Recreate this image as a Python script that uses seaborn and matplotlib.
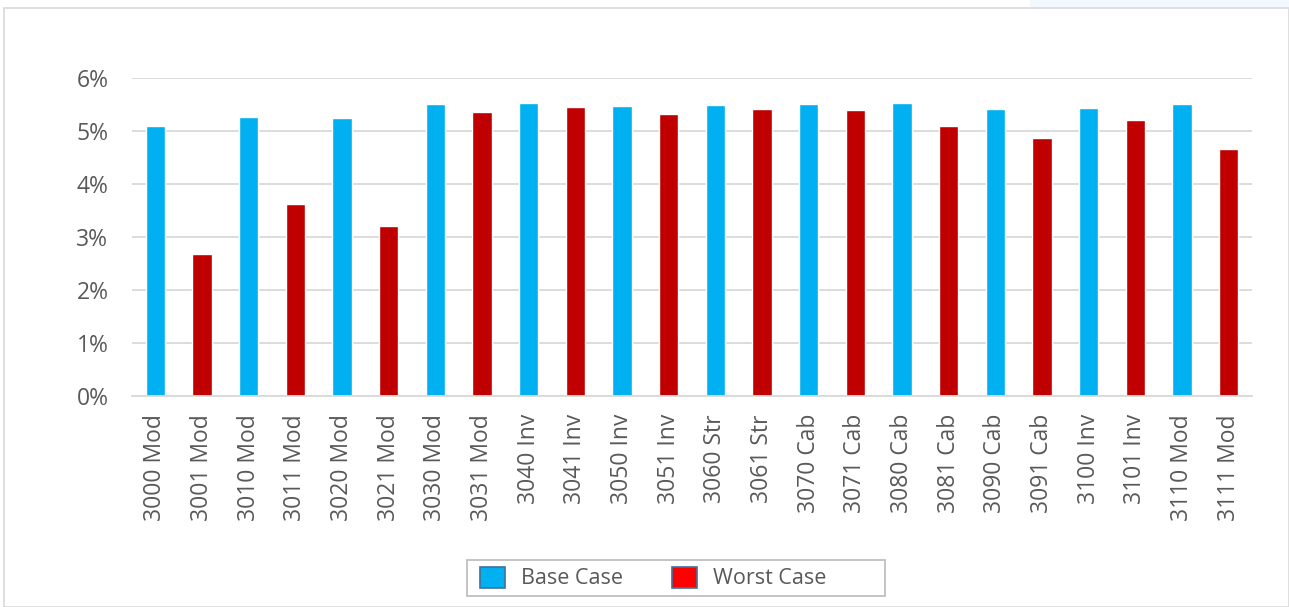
import matplotlib
matplotlib.use("Agg")
import matplotlib.pyplot as plt
from matplotlib.patches import Patch, Rectangle
from matplotlib.ticker import PercentFormatter, MultipleLocator
import seaborn as sns
import pandas as pd

labels = ["3000 Mod", "3001 Mod", "3010 Mod", "3011 Mod", "3020 Mod", "3021 Mod",
          "3030 Mod", "3031 Mod", "3040 Inv", "3041 Inv", "3050 Inv", "3051 Inv",
          "3060 Str", "3061 Str", "3070 Cab", "3071 Cab", "3080 Cab", "3081 Cab",
          "3090 Cab", "3091 Cab", "3100 Inv", "3101 Inv", "3110 Mod", "3111 Mod"]
values = [0.0509, 0.0268, 0.0526, 0.0362, 0.0525, 0.0321,
          0.0551, 0.0536, 0.0553, 0.0545, 0.0547, 0.0532,
          0.0549, 0.0542, 0.0551, 0.0540, 0.0553, 0.0509,
          0.0542, 0.0487, 0.0543, 0.0521, 0.0551, 0.0466]
cases = ["Base Case", "Worst Case"] * 12

BLUE = "#00B0F0"
DARKRED = "#C00000"
GRAY = "#595959"

sns.set_style("white")
plt.rcParams["font.family"] = ["Open Sans", "DejaVu Sans"]

df = pd.DataFrame({"label": labels, "value": values, "case": cases})

fig = plt.figure(figsize=(12.89, 6.07), dpi=100)
W, H = 1289, 607
# chart border and top strip
fig.patches.append(Rectangle((1030 / W, 1 - 7 / H), 1 - 1030 / W, 7 / H,
                             transform=fig.transFigure, facecolor="#F3F8FE",
                             edgecolor="none", zorder=0))
fig.patches.append(Rectangle((4 / W, 0), 1 - 4 / W, 1 - 8 / H,
                             transform=fig.transFigure, facecolor="none",
                             edgecolor="#D9D9D9", linewidth=1.2, zorder=1))

ax = fig.add_axes([132 / W, (H - 396) / H, 1120 / W, 318 / H])
sns.barplot(data=df, x="label", y="value", hue="case",
            palette={"Base Case": BLUE, "Worst Case": DARKRED},
            dodge=False, width=0.41, legend=False, ax=ax, saturation=1)

ax.set_ylim(0, 0.06)
ax.set_xlim(-0.5, len(labels) - 0.5)
ax.yaxis.set_major_locator(MultipleLocator(0.01))
ax.yaxis.set_major_formatter(PercentFormatter(1.0, decimals=0))
ax.grid(axis="y", color="#D9D9D9", linewidth=1.3)
ax.set_axisbelow(True)
for s in ["top", "right", "left"]:
    ax.spines[s].set_visible(False)
ax.spines["bottom"].set_color("#D9D9D9")
ax.spines["bottom"].set_linewidth(1.3)
ax.set_xlabel("")
ax.set_ylabel("")
ax.tick_params(axis="both", length=0, labelsize=16.5, labelcolor=GRAY)
ax.tick_params(axis="y", pad=17)
ax.tick_params(axis="x", pad=13)
plt.setp(ax.get_xticklabels(), rotation=90)

# legend frame (Excel-style box with extra space on the right)
fig.patches.append(Rectangle((467 / W, (H - 596) / H), 418 / W, 36 / H,
                             transform=fig.transFigure, facecolor="white",
                             edgecolor="#BFBFBF", linewidth=1.3, zorder=2))
handles = [Patch(facecolor=BLUE, edgecolor="#41719C", linewidth=1.2, label="Base Case"),
           Patch(facecolor="#FF0000", edgecolor="#41719C", linewidth=1.2, label="Worst Case")]
leg = fig.legend(handles=handles, loc="center left",
                 bbox_to_anchor=(480 / W, (H - 578) / H),
                 ncol=2, frameon=False, fontsize=15.5,
                 handlelength=1.15, handleheight=1.15, handletextpad=0.75,
                 columnspacing=2.3, borderpad=0.0, borderaxespad=0)
leg.set_zorder(3)
for t in leg.get_texts():
    t.set_color(GRAY)

fig.savefig("out.png", dpi=100)
